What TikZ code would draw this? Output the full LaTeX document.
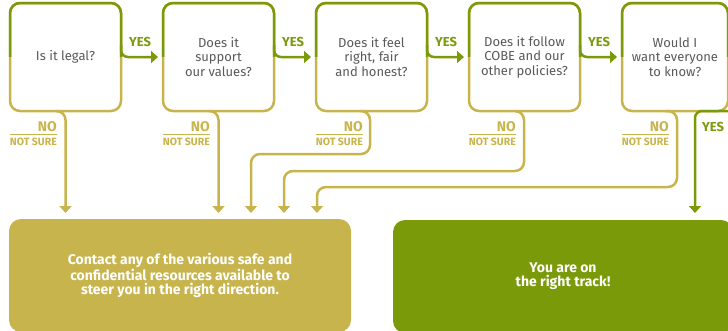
\documentclass[tikz,border=0pt]{standalone}
\usepackage{fontspec}
\setmainfont{Fira Sans}
\usetikzlibrary{arrows.meta}
\definecolor{grn}{HTML}{7A9A0A}
\definecolor{yel}{HTML}{C8B44C}
\definecolor{txt}{HTML}{595959}
\begin{document}
\begin{tikzpicture}[x=1pt,y=-1pt,
  qbox/.style={shape=rectangle, draw=yel, line width=2.5pt, rounded corners=10pt,
    minimum width=111pt, minimum height=108pt, outer sep=0pt, inner sep=2pt,
    align=center, text=txt, font=\fontsize{13}{14.5}\selectfont},
  greenedge/.style={draw=grn, line width=2.5pt, rounded corners=10pt},
  yeslbl/.style={text=grn, inner sep=0pt, font=\fontsize{13}{14}\selectfont\bfseries},
  nolbl/.style={text=yel, inner sep=0pt, anchor=east, font=\fontsize{14}{14}\selectfont\bfseries},
  nslbl/.style={text=yel, inner sep=0pt, anchor=east, font=\fontsize{10.5}{12}\selectfont\bfseries},
  tip/.style={-{Triangle[width=12pt,length=7pt]}},
  yesline/.style={draw=grn, line width=2.5pt, rounded corners=7pt, tip},
  noline/.style={draw=yel, line width=2.5pt, rounded corners=9pt, tip},
  endbox/.style={shape=rectangle, rounded corners=12pt, outer sep=0pt, align=center,
    text=white, font=\fontsize{14}{14}\selectfont\bfseries}
]
\clip (0,0) rectangle (728,330);
% question boxes
\node[qbox] (q1) at (65.5,57) {Is it legal?};
\node[qbox] (q2) at (218.5,57) {Does it\\support\\our values?};
\node[qbox] (q3) at (371.5,57) {Does it feel\\right, fair\\and honest?};
\node[qbox] (q4) at (524.5,57) {Does it follow\\COBE and our\\other policies?};
\node[qbox, minimum width=106pt] (q5) at (675,57) {Would I\\want everyone\\to know?};
% green upper halves
\begin{scope}
  \clip (0,0) rectangle (728,56.5);
  \foreach \i in {1,...,5}
    \draw[greenedge] (q\i.north west) rectangle (q\i.south east);
\end{scope}
% end boxes
\node[endbox, fill=yel, minimum width=342pt, minimum height=113pt] (contact) at (180,275.5)
  {Contact any of the various safe and\\confidential resources available to\\steer you in the right direction.};
\node[endbox, fill=grn, minimum width=340pt, minimum height=113pt] (track) at (563,276.5)
  {You are on\\the right track!};
% YES connectors
\foreach \i/\j in {1/2,2/3,3/4,4/5}{
  \draw[yesline, shorten >=5pt] ([yshift=12pt]q\i.east) |- (q\j.west);
  \node[yeslbl] (yes\i) at ([xshift=19pt,yshift=15pt]q\i.east) {YES};
}
% NO labels
\foreach \i in {1,...,5}{
  \draw[yel, line width=0.8pt] ([yshift=-23pt]q\i.south west) -- ++(47,0);
  \node[nolbl] (no\i) at ([xshift=47pt,yshift=-15.5pt]q\i.south west) {NO};
  \node[nslbl] (ns\i) at ([xshift=47pt,yshift=-30.5pt]q\i.south west) {NOT SURE};
}
% NO connectors
\draw[noline, shorten >=6pt] ([xshift=-10pt]q1.south) -- (q1.south) -- (q1.south |- contact.north);
\draw[noline, shorten >=6pt] ([xshift=-10pt]q2.south) -- (q2.south) -- (q2.south |- contact.north);
\draw[noline, shorten >=6pt] ([xshift=-11pt]q3.south) -- ([xshift=-1.5pt]q3.south) -- ++(0,43) -| ([xshift=71pt]contact.north);
\draw[noline, shorten >=6pt] ([xshift=-10pt]q4.south) -- ([xshift=-0.5pt]q4.south) -- ++(0,60) -| ([xshift=104pt]contact.north);
\draw[noline, shorten >=6pt] ([xshift=-10pt]q5.south) -- ([xshift=2pt]q5.south) -- ++(0,76) -| ([xshift=137pt]contact.north);
% final YES
\draw[yesline, shorten >=7pt] (q5.south east) -- ([xshift=20pt]q5.south) -- ([xshift=20pt]q5.south |- track.north);
\node[yeslbl] (yes5) at (713,127) {YES};
\end{tikzpicture}
\end{document}
